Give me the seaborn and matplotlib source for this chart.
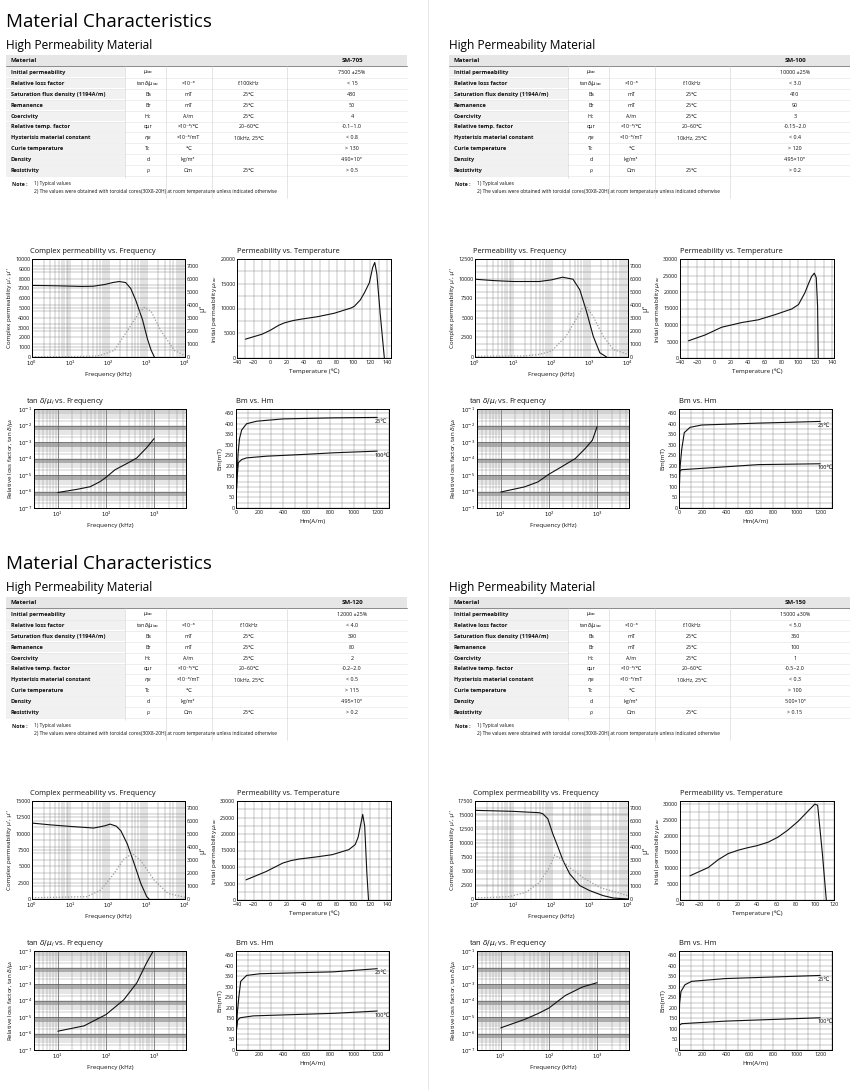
import numpy as np
import matplotlib.pyplot as plt
from matplotlib.patches import Rectangle
from matplotlib.ticker import LogLocator, NullFormatter, MultipleLocator
import seaborn as sns

sns.set_theme(style="white")
plt.rcParams["font.family"] = ["Liberation Sans Narrow", "Open Sans", "DejaVu Sans"]
plt.rcParams["mathtext.fontset"] = "dejavusans"
plt.rcParams["text.color"] = "#111111"
plt.rcParams["axes.labelcolor"] = "#111111"

# ---------------- table data ----------------
materials = ["SM-705", "SM-100", "SM-120", "SM-150"]
row_labels = ["Initial permeability", "Relative loss factor", "Saturation flux density (1194A/m)",
              "Remanence", "Coercivity", "Relative temp. factor", "Hysterisis material constant",
              "Curie temperature", "Density", "Resistivity"]
row_symbols = [r"$\mu_{iac}$", r"tan$\delta/\mu_{iac}$", "Bs", "Br", "Hc", "αμr", r"$\eta_B$", "Tc", "d", "ρ"]
row_units = ["", "×10⁻⁶", "mT", "mT", "A/m", "×10⁻⁶/℃", "×10⁻⁶/mT", "℃", "kg/m³", "Ωm"]
row_conditions = ["", "f:10kHz", "25℃", "25℃", "25℃", "20~60℃", "10kHz, 25℃", "", "", "25℃"]
loss_conditions = ["f:100kHz", "f:10kHz", "f:10kHz", "f:10kHz"]
sm705_values = ["7500 ±25%", "< 15", "430", "50", "4", "-0.1~1.0", "< 0.8", "> 130", "4.90×10³", "> 0.5"]
sm100_values = ["10000 ±25%", "< 3.0", "410", "90", "3", "-0.15~2.0", "< 0.4", "> 120", "4.95×10³", "> 0.2"]
sm120_values = ["12000 ±25%", "< 4.0", "390", "80", "2", "-0.2~2.0", "< 0.5", "> 115", "4.95×10³", "> 0.2"]
sm150_values = ["15000 ±30%", "< 5.0", "360", "100", "1", "-0.5~2.0", "< 0.3", "> 100", "5.00×10³", "> 0.15"]
note_lines = ["1) Typical values",
              "2) The values were obtained with toroidal cores(30X8-20H) at room temperature unless indicated otherwise"]

# ---------------- complex permeability vs frequency (kHz) ----------------
sm705_cf_freq = [1, 2, 5, 10, 20, 40, 80, 130, 190, 280, 380, 515, 775, 1050, 1300, 1580]
sm705_cf_mu1 = [7300, 7290, 7260, 7230, 7200, 7220, 7400, 7600, 7700, 7600, 7000, 5800, 3800, 1800, 700, 0]
sm705_cf_freq2 = [1, 10, 40, 60, 140, 310, 600, 860, 1300, 2350, 5300, 10000]
sm705_cf_mu2 = [20, 30, 60, 120, 500, 2000, 3300, 3800, 3500, 2000, 500, 100]

sm100_cf_freq = [1, 3, 10, 48, 100, 195, 365, 550, 820, 1230, 1830, 2750]
sm100_cf_mu1 = [9920, 9750, 9630, 9630, 9840, 10180, 9920, 8570, 5830, 2660, 550, 0]
sm100_cf_freq2 = [1, 20, 48, 100, 240, 430, 640, 820, 1230, 2250, 4100, 10000]
sm100_cf_mu2 = [50, 80, 200, 450, 1590, 2850, 3730, 3850, 3100, 1590, 580, 200]

sm120_cf_freq = [1, 3, 10, 41, 80, 110, 160, 210, 310, 470, 700, 1000, 1150]
sm120_cf_mu1 = [11620, 11350, 11110, 10860, 11200, 11460, 11150, 10450, 8430, 5400, 2370, 350, 0]
sm120_cf_freq2 = [1, 27, 62, 138, 253, 420, 700, 1580, 3560, 10000]
sm120_cf_mu2 = [100, 175, 680, 1930, 3060, 3480, 2930, 1430, 430, 125]

sm150_cf_freq = [1, 10, 48, 59, 80, 108, 148, 200, 300, 550, 1000, 2240, 4100, 10000]
sm150_cf_mu1 = [15830, 15650, 15410, 15230, 14340, 11650, 9260, 6870, 4480, 2390, 1490, 600, 180, 0]
sm150_cf_freq2 = [1, 7.7, 21, 48, 88, 120, 160, 300, 670, 1830, 10000]
sm150_cf_mu2 = [75, 175, 500, 1260, 2400, 3360, 3160, 2400, 1640, 880, 250]

# ---------------- permeability vs temperature ----------------
sm705_temp = [-30, -10, 0, 10, 17, 27, 37, 57, 77, 97, 101, 108, 113, 119, 123, 125.5, 128, 132, 137]
sm705_mui = [3800, 4800, 5600, 6600, 7100, 7550, 7850, 8350, 9050, 10100, 10450, 11700, 13150, 15200,
             18300, 19300, 17000, 9000, 0]
sm100_temp = [-30, -10.5, 9.2, 33, 52.5, 72, 92, 100, 107.6, 112, 115.5, 118.7, 121, 122.6, 123.4]
sm100_mui = [5220, 6960, 9320, 10750, 11570, 13100, 14850, 16180, 19760, 22600, 24680, 25700, 24370, 15660, 0]
sm120_temp = [-29.2, -4.8, 15, 25, 34.5, 54.4, 74.3, 94.3, 102, 105.5, 108.2, 111, 113.4, 116, 118]
sm120_mui = [6100, 8650, 11190, 11950, 12410, 13020, 13730, 15260, 16780, 19000, 22380, 25940, 22380, 8140, 0]
sm150_temp = [-29.6, -10.6, 0, 10, 20.4, 30, 40, 51.5, 62, 72, 82.6, 93, 100, 103, 108, 112]
sm150_mui = [7580, 10180, 12680, 14520, 15600, 16350, 17010, 18090, 19720, 21880, 24590, 27840, 30010,
             29690, 14300, 0]
temp_xmax = [145, 142, 145, 120]
temp_ymax = [20000, 30000, 30000, 31000]

# ---------------- tan d / mu_i vs frequency ----------------
sm705_loss_freq = [10, 25, 47, 76, 100, 155, 270, 436, 700, 1000]
sm705_loss = [8.7e-7, 1.35e-6, 1.95e-6, 4.0e-6, 7.2e-6, 2.1e-5, 4.9e-5, 1.07e-4, 4.5e-4, 1.6e-3]
sm100_loss_freq = [10, 31, 59, 100, 185, 353, 570, 800, 1000]
sm100_loss = [9.3e-7, 1.9e-6, 3.8e-6, 1.12e-5, 3.2e-5, 1.0e-4, 4.1e-4, 1.3e-3, 8.5e-3]
sm120_loss_freq = [10, 35, 100, 232, 436, 700, 960]
sm120_loss = [1.38e-6, 2.9e-6, 1.4e-5, 1.07e-4, 1.15e-3, 1.95e-2, 1.0e-1]
sm150_loss_freq = [10, 31, 59, 100, 218, 490, 1000]
sm150_loss = [2.2e-6, 7.1e-6, 1.6e-5, 3.5e-5, 2.0e-4, 6.5e-4, 1.2e-3]

# ---------------- Bm vs Hm ----------------
sm705_hm25 = [2, 8, 18, 30, 48, 90, 175, 400, 826, 1200]
sm705_bm25 = [40, 150, 260, 330, 370, 400, 412, 423, 428, 430]
sm705_hm100 = [2, 10, 20, 48, 90, 260, 600, 826, 1200]
sm705_bm100 = [60, 150, 215, 230, 238, 246, 255, 262, 270]
sm100_hm25 = [2, 10, 23, 45, 94, 193, 675, 1200]
sm100_bm25 = [80, 200, 278, 358, 383, 394, 403, 411]
sm100_hm100 = [1, 5, 23, 108, 675, 1200]
sm100_bm100 = [120, 175, 182, 185, 206, 210]
sm120_hm25 = [2, 12, 23, 40, 90, 204, 826, 1200]
sm120_bm25 = [85, 180, 246, 326, 354, 362, 371, 386]
sm120_hm100 = [2, 14, 34, 147, 826, 1200]
sm120_bm100 = [85, 141, 153, 162, 174, 185]
sm150_hm25 = [1, 5, 17, 51, 108, 391, 1200]
sm150_bm25 = [133, 220, 278, 310, 326, 339, 354]
sm150_hm100 = [1, 23, 391, 1200]
sm150_bm100 = [117, 125, 137, 153]

W, H = 850, 1090
fig = plt.figure(figsize=(8.5, 10.9), dpi=100)
bg = fig.add_axes([0, 0, 1, 1])
bg.set_xlim(0, W)
bg.set_ylim(H, 0)
bg.axis("off")

TITLE_FONT = ["Open Sans", "DejaVu Sans"]
LINE = "#111111"
GRID = "#7a7a7a"
TICK_FS = 3.9
LABEL_FS = 4.5


def box(x, y, w, h):
    return fig.add_axes([x / W, 1 - (y + h) / H, w / W, h / H])


def style(ax, title, title_dx=0):
    for s in ax.spines.values():
        s.set_color("black")
        s.set_linewidth(0.7)
    ax.tick_params(which="both", labelsize=TICK_FS, length=0, pad=1.2, colors="#111")
    ax.set_axisbelow(True)
    ax.set_title(title, loc="left", fontsize=5.4, pad=4, family=TITLE_FONT, x=title_dx,
                 weight="medium")


def plot_cf(ax, title, f1, m1, f2, m2, ymax):
    sns.lineplot(x=f1, y=m1, ax=ax, color=LINE, linewidth=0.8, legend=False)
    ax.set_xscale("log")
    ax.set_xlim(1, 1e4)
    ax.set_ylim(0, ymax)
    ax.set_xticks([1, 10, 100, 1000, 10000],
                  [r"$10^{0}$", r"$10^{1}$", r"$10^{2}$", r"$10^{3}$", r"$10^{4}$"])
    ax.xaxis.set_minor_locator(LogLocator(base=10, subs=range(2, 10)))
    ax.xaxis.set_minor_formatter(NullFormatter())
    ax.set_yticks(np.arange(0, ymax + 1, 1000 if ymax == 10000 else 2500))
    ax.set_yticks(np.linspace(0, ymax, 16), minor=True)
    ax.grid(which="both", color=GRID, linewidth=0.3)
    ax.set_xlabel("Frequency (kHz)", fontsize=LABEL_FS, labelpad=3)
    ax.set_ylabel("Complex permeability μ', μ''", fontsize=LABEL_FS, labelpad=2)
    style(ax, title, -0.01)
    ax2 = ax.twinx()
    sns.lineplot(x=f2, y=m2, ax=ax2, color="#9a9a9a", linewidth=0.9,
                 linestyle=(0, (1, 1.4)), legend=False)
    ax2.set_ylim(0, 7500)
    ax2.set_yticks(range(0, 7001, 1000))
    ax2.grid(False)
    ax2.tick_params(labelsize=TICK_FS, length=0, pad=1.2, colors="#111")
    ax2.set_ylabel("μ''", fontsize=4.8, labelpad=0.5)
    for s in ax2.spines.values():
        s.set_linewidth(0.7)
        s.set_color("black")


def plot_temp(ax, t, mu, xmax, ymax):
    sns.lineplot(x=t, y=mu, ax=ax, color=LINE, linewidth=0.8, legend=False)
    ax.set_xlim(-40, xmax)
    ax.set_ylim(0, ymax)
    ax.set_xticks(np.arange(-40, min(xmax, 140) + 1, 20))
    ax.xaxis.set_minor_locator(MultipleLocator(10))
    ax.set_yticks(np.arange(0, ymax + 1, 5000))
    ax.yaxis.set_minor_locator(MultipleLocator(2500))
    ax.grid(which="both", color=GRID, linewidth=0.3)
    ax.set_xlabel("Temperature (℃)", fontsize=LABEL_FS, labelpad=3)
    ax.set_ylabel(r"Initial permeability $\mu_{iac}$", fontsize=LABEL_FS, labelpad=0.5)
    style(ax, "Permeability vs. Temperature")


def plot_loss(ax, f, loss):
    for k in range(-6, -1):
        ax.axhspan(0.5 * 10.0 ** k, 10.0 ** k, color="#c4c4c4", lw=0, zorder=0.2)
    sns.lineplot(x=f, y=loss, ax=ax, color=LINE, linewidth=0.8, legend=False)
    ax.set_xscale("log")
    ax.set_yscale("log")
    ax.set_xlim(3.2, 4600)
    ax.set_ylim(1e-7, 1e-1)
    ax.set_xticks([10, 100, 1000], [r"$10^{1}$", r"$10^{2}$", r"$10^{3}$"])
    ax.set_yticks([10.0 ** k for k in range(-7, 0)], [r"$10^{%d}$" % k for k in range(-7, 0)])
    ax.xaxis.set_minor_locator(LogLocator(base=10, subs=range(2, 10)))
    ax.yaxis.set_minor_locator(LogLocator(base=10, subs=range(2, 10)))
    ax.xaxis.set_minor_formatter(NullFormatter())
    ax.yaxis.set_minor_formatter(NullFormatter())
    ax.grid(which="minor", color="#8a8a8a", linewidth=0.3)
    ax.grid(which="major", color="#444444", linewidth=0.45)
    ax.set_xlabel("Frequency (kHz)", fontsize=LABEL_FS, labelpad=3)
    ax.set_ylabel(r"Relative loss factor, tan $\delta/\mu_i$", fontsize=LABEL_FS, labelpad=2)
    style(ax, r"tan $\delta/\mu_i$ vs. Frequency", -0.05)


def plot_bh(ax, h25, b25, h100, b100):
    sns.lineplot(x=h25, y=b25, ax=ax, color=LINE, linewidth=0.8, legend=False)
    sns.lineplot(x=h100, y=b100, ax=ax, color=LINE, linewidth=0.8, legend=False)
    ax.set_xlim(0, 1300)
    ax.set_ylim(0, 470)
    ax.set_xticks(range(0, 1201, 200))
    ax.xaxis.set_minor_locator(MultipleLocator(100))
    ax.set_yticks(range(0, 451, 50))
    ax.yaxis.set_minor_locator(MultipleLocator(25))
    ax.grid(which="both", color=GRID, linewidth=0.3)
    ax.text(h25[-1] - 20, b25[-1] - 20, "25℃", fontsize=4.0, va="center", ha="left")
    ax.text(h100[-1] - 20, b100[-1] - 20, "100℃", fontsize=4.0, va="center", ha="left")
    ax.set_xlabel("Hm(A/m)", fontsize=LABEL_FS, labelpad=3)
    ax.set_ylabel("Bm(mT)", fontsize=LABEL_FS, labelpad=2)
    style(ax, "Bm vs. Hm")


def draw_table(bx, by, name, values, loss_cond):
    x0, x1 = bx + 6, bx + 407
    bg.add_patch(Rectangle((x0, by + 55), x1 - x0, 11, color="#e6e6e6", lw=0))
    bg.plot([x0, x1], [by + 66, by + 66], color="#777777", lw=0.6)
    bg.text(x0 + 5, by + 60.7, "Material", fontsize=4.4, weight="bold", va="center")
    bg.text(bx + 352, by + 60.7, name, fontsize=4.4, weight="bold", va="center", ha="center")
    rh = 10.9
    for i in range(len(row_labels)):
        top = by + 67 + i * rh
        yc = top + rh / 2
        bg.add_patch(Rectangle((x0, top + 0.4), 119, rh - 0.8, color="#f1f1f1", lw=0))
        bg.plot([x0, x1], [top + rh, top + rh], color="#e4e4e4", lw=0.4)
        cond = loss_cond if i == 1 else row_conditions[i]
        bg.text(x0 + 5, yc, row_labels[i], fontsize=4.1, weight="bold", va="center")
        bg.text(bx + 148, yc, row_symbols[i], fontsize=3.8, va="center", ha="center")
        bg.text(bx + 188, yc, row_units[i], fontsize=3.8, va="center", ha="center")
        bg.text(bx + 249, yc, cond, fontsize=3.8, va="center", ha="center")
        bg.text(bx + 352, yc, values[i], fontsize=3.9, va="center", ha="center")
    for xc, yend in [(125, 178), (166, 198), (212, 198), (287, 198)]:
        bg.plot([bx + xc, bx + xc], [by + 66, by + yend], color="#d2d2d2", lw=0.4)
    bg.text(bx + 12, by + 184, "Note :", fontsize=3.7, weight="bold", va="center")
    bg.text(bx + 34, by + 184, note_lines[0], fontsize=3.5, va="center")
    bg.text(bx + 34, by + 192, note_lines[1], fontsize=3.5, va="center")


# divider between columns
bg.plot([428, 428], [0, H], color="#e4e4e4", lw=0.6)

blocks = [(0, 0), (443, 0), (0, 542), (443, 542)]
all_values = [sm705_values, sm100_values, sm120_values, sm150_values]
cf_data = [(sm705_cf_freq, sm705_cf_mu1, sm705_cf_freq2, sm705_cf_mu2, 10000),
           (sm100_cf_freq, sm100_cf_mu1, sm100_cf_freq2, sm100_cf_mu2, 12500),
           (sm120_cf_freq, sm120_cf_mu1, sm120_cf_freq2, sm120_cf_mu2, 15000),
           (sm150_cf_freq, sm150_cf_mu1, sm150_cf_freq2, sm150_cf_mu2, 17500)]
cf_titles = ["Complex permeability vs. Frequency", "Permeability vs. Frequency",
             "Complex permeability vs. Frequency", "Complex permeability vs. Frequency"]
temp_data = [(sm705_temp, sm705_mui), (sm100_temp, sm100_mui), (sm120_temp, sm120_mui), (sm150_temp, sm150_mui)]
loss_data = [(sm705_loss_freq, sm705_loss), (sm100_loss_freq, sm100_loss),
             (sm120_loss_freq, sm120_loss), (sm150_loss_freq, sm150_loss)]
bh_data = [(sm705_hm25, sm705_bm25, sm705_hm100, sm705_bm100),
           (sm100_hm25, sm100_bm25, sm100_hm100, sm100_bm100),
           (sm120_hm25, sm120_bm25, sm120_hm100, sm120_bm100),
           (sm150_hm25, sm150_bm25, sm150_hm100, sm150_bm100)]

for i, (bx, by) in enumerate(blocks):
    if bx == 0:
        bg.text(6, by + 22, "Material Characteristics", fontsize=13.5, va="center",
                family=TITLE_FONT, weight="medium", color="black")
    bg.text(bx + 6, by + 45, "High Permeability Material", fontsize=8.6, va="center",
            family=TITLE_FONT, weight="medium", color="black")
    draw_table(bx, by, materials[i], all_values[i], loss_conditions[i])

    f1, m1, f2, m2, ymax = cf_data[i]
    plot_cf(box(bx + 32, by + 259, 153, 98), cf_titles[i], f1, m1, f2, m2, ymax)
    plot_temp(box(bx + 237, by + 259, 154, 99), *temp_data[i], temp_xmax[i], temp_ymax[i])
    plot_loss(box(bx + 34, by + 409, 152, 99), *loss_data[i])
    plot_bh(box(bx + 236, by + 409, 153, 99), *bh_data[i])

fig.savefig("out.png", dpi=100)
